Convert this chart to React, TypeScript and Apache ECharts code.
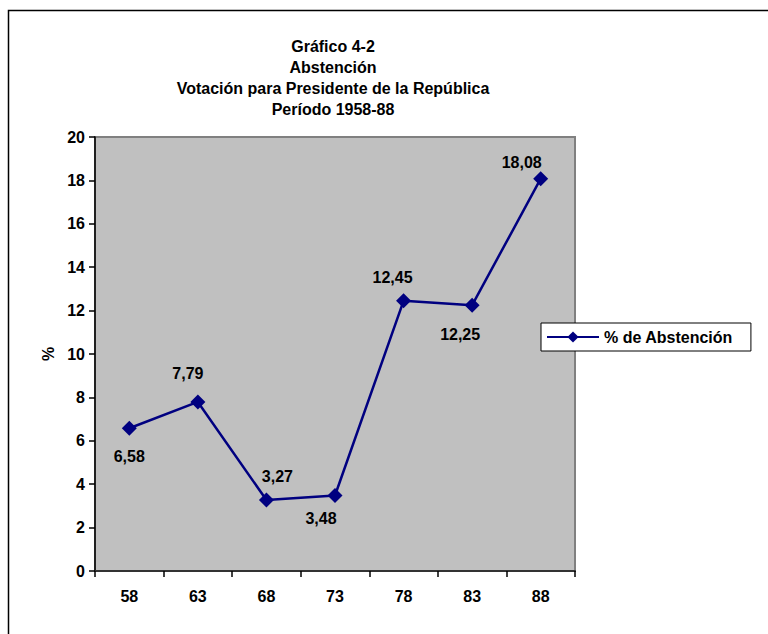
import React, { useEffect, useRef } from "react";
import * as echarts from "echarts";

const categories = ["58", "63", "68", "73", "78", "83", "88"];
const values = [6.58, 7.79, 3.27, 3.48, 12.45, 12.25, 18.08];
const labelOffsets = [
  [0, 28],
  [-10, -28],
  [11, -24],
  [-14, 23],
  [-11, -23],
  [-12, 29],
  [-19, -16],
];
const titleLines = [
  "Gráfico 4-2",
  "Abstención",
  "Votación para Presidente de la República",
  "Período 1958-88",
];
const seriesName = "% de Abstención";

const FONT = "Liberation Sans, Arial, sans-serif";

export default function App() {
  const ref = useRef<HTMLDivElement>(null);
  useEffect(() => {
    const chart = echarts.init(ref.current!, null, { renderer: "svg" });
    chart.setOption({
      animation: false,
      backgroundColor: "#ffffff",
      textStyle: { fontFamily: FONT },
      title: {
        text: titleLines.join("\n"),
        left: 328,
        top: 31,
        textAlign: "center",
        textStyle: { fontSize: 16, fontWeight: "bold", color: "#000", lineHeight: 21, fontFamily: FONT },
      },
      graphic: [
        {
          type: "rect",
          shape: { x: 8.5, y: 10.5, width: 900, height: 900 },
          style: { fill: "none", stroke: "#000", lineWidth: 1.5 },
          silent: true,
          z: -10,
        },
      ],
      legend: {
        left: 541,
        top: 323,
        orient: "vertical",
        data: [seriesName],
        backgroundColor: "#fff",
        borderColor: "#000",
        borderWidth: 1,
        padding: [6, 18, 6, 5],
        itemWidth: 52,
        itemHeight: 14,
        itemGap: 4,
        textStyle: { fontSize: 16, fontWeight: "bold", color: "#000", fontFamily: FONT },
      },
      grid: {
        left: 95,
        top: 137,
        right: 193,
        bottom: 63,
        show: true,
        backgroundColor: "#c0c0c0",
        borderColor: "#808080",
        borderWidth: 2,
      },
      xAxis: {
        type: "category",
        data: categories,
        boundaryGap: true,
        axisLine: { lineStyle: { color: "#333", width: 2 } },
        axisTick: { show: true, alignWithLabel: false, length: 6, inside: false, lineStyle: { color: "#000", width: 1.5 } },
        axisLabel: { fontSize: 16, fontWeight: "bold", color: "#000", margin: 17, fontFamily: FONT },
      },
      yAxis: {
        type: "value",
        min: 0,
        max: 20,
        interval: 2,
        name: "%",
        nameLocation: "middle",
        nameGap: 39,
        nameTextStyle: { fontSize: 16, fontWeight: "bold", color: "#000", fontFamily: FONT },
        axisLine: { show: true, lineStyle: { color: "#000", width: 1.5 } },
        axisTick: { show: true, length: 6, lineStyle: { color: "#000", width: 1.5 } },
        splitLine: { show: false },
        axisLabel: { fontSize: 16, fontWeight: "bold", color: "#000", margin: 10, fontFamily: FONT },
      },
      series: [
        {
          name: seriesName,
          type: "line",
          symbol: "diamond",
          symbolSize: 15,
          itemStyle: { color: "#000080" },
          lineStyle: { color: "#000080", width: 2.5 },
          data: values.map((v, i) => ({
            value: v,
            label: {
              show: true,
              position: "inside",
              offset: labelOffsets[i],
            },
          })),
          label: {
            show: true,
            fontSize: 16,
            fontWeight: "bold",
            color: "#000",
            fontFamily: FONT,
            formatter: (p: any) => p.value.toFixed(2).replace(".", ","),
          },
        },
      ],
    });
    return () => chart.dispose();
  }, []);
  return (
    <div
      ref={ref}
      style={{ position: "fixed", left: 0, top: 0, width: 768, height: 634 }}
    />
  );
}
